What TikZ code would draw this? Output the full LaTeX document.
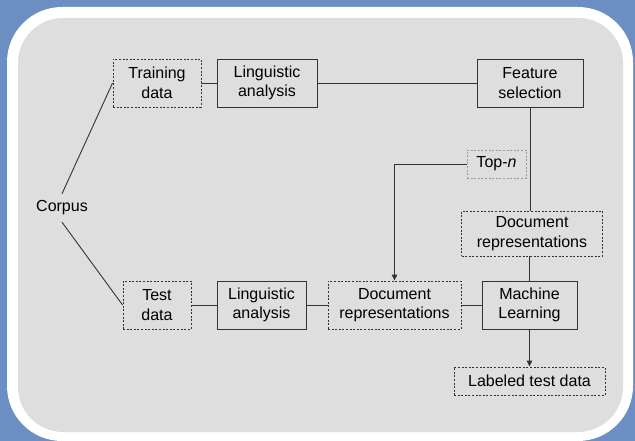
\documentclass[tikz,border=0pt]{standalone}
\usepackage{fontspec}
\setmainfont{Liberation Sans}
\usetikzlibrary{arrows.meta,calc}
\definecolor{bgblue}{HTML}{6B8FC2}
\definecolor{panel}{HTML}{DEDEDE}
\definecolor{ln}{HTML}{333333}
\tikzset{
  every node/.style={font=\fontsize{16}{19.5}\selectfont, align=center, inner sep=0pt, text=black},
  solidbox/.style={draw=ln, line width=0.9pt},
  dotbox/.style={draw=ln, line width=0.9pt, dash pattern=on 2pt off 1.6pt},
  greybox/.style={draw=gray!80, line width=0.8pt, dash pattern=on 2pt off 1.6pt},
  conn/.style={draw=ln, line width=0.9pt},
  arr/.style={conn, -{Triangle[length=6pt,width=5.5pt]}},
}
\begin{document}
\begin{tikzpicture}[x=1pt,y=-1pt]
\useasboundingbox (0,0) rectangle (635,441);
\fill[bgblue] (0,0) rectangle (635,441);
\fill[white, rounded corners=55pt] (7,7) rectangle (633,441);
\fill[panel, rounded corners=45pt] (18,18) rectangle (623,432);

\node[dotbox, minimum width=88pt, minimum height=48pt] (train) at (157,83) {Training\\data};
\node[solidbox, minimum width=100pt, minimum height=48pt] (la1) at (267,83) {Linguistic\\analysis};
\node[solidbox, minimum width=106pt, minimum height=48pt] (fs) at (530,83) {Feature\\selection};
\node[greybox, minimum width=59pt, minimum height=28pt] (topn) at (496.5,164) {Top-\textit{n}};
\node[dotbox, minimum width=141pt, minimum height=45pt] (dr1) at (532,233.5) {Document\\representations};
\node[dotbox, minimum width=68pt, minimum height=48pt] (test) at (157,305) {Test\\data};
\node[solidbox, minimum width=89pt, minimum height=48pt] (la2) at (261.5,305) {Linguistic\\analysis};
\node[dotbox, minimum width=133pt, minimum height=48pt] (dr2) at (394.5,305) {Document\\representations};
\node[solidbox, minimum width=95pt, minimum height=48pt] (ml) at (529.5,305) {Machine\\Learning};
\node[dotbox, minimum width=151pt, minimum height=28pt] (ltd) at (529.5,381) {Labeled test data};
\node[minimum height=28pt] (corpus) at (62,208) {Corpus};

\draw[conn] (corpus.north) -- (train.west);
\draw[conn] (corpus.south) -- (test.west);
\draw[conn] (train.east) -- (la1.west);
\draw[conn] (la1.east) -- (fs.west);
\draw[conn] (fs.south) -- (fs.south |- dr1.north);
\draw[conn] (ml.north |- dr1.south) -- (ml.north);
\draw[arr] (topn.west) -| (dr2.north);
\draw[conn] (test.east) -- (la2.west);
\draw[conn] (la2.east) -- (dr2.west);
\draw[conn] (dr2.east) -- (ml.west);
\draw[arr] (ml.south) -- (ltd.north);
\end{tikzpicture}
\end{document}
